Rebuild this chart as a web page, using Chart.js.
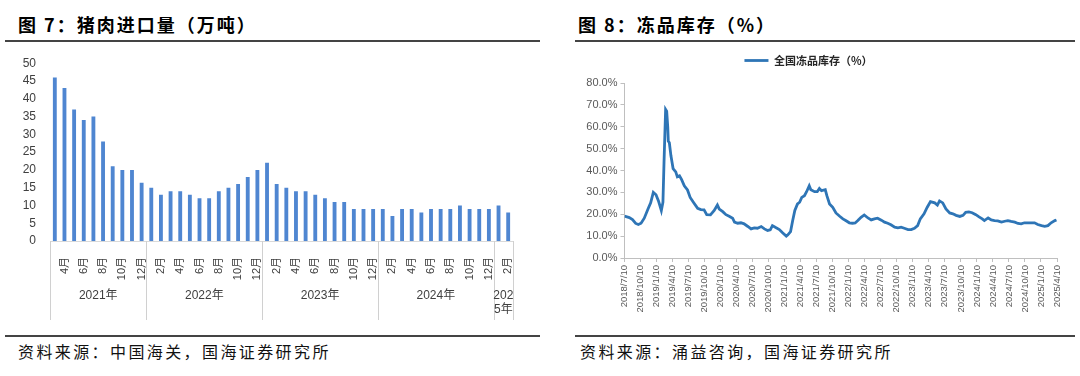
<!DOCTYPE html>
<html>
<head>
<meta charset="utf-8">
<script src="https://cdn.jsdelivr.net/npm/chart.js@4.4.1/dist/chart.umd.min.js"></script>
<style>
  body { margin: 0; background: #fff; width: 1080px; height: 376px; overflow: hidden; position: relative; font-family: 'Noto Sans CJK SC', sans-serif; }
  .title { position: absolute; top: 11px; font-size: 18px; font-weight: bold; color: #000; letter-spacing: 2px; white-space: nowrap; }
  .rule { position: absolute; height: 1.5px; background: #444; }
  .src { position: absolute; top: 339px; font-size: 16px; color: #111; letter-spacing: 2.4px; white-space: nowrap; }
  canvas { position: absolute; }
</style>
</head>
<body>
<div class="title" style="left:18px">图 7：猪肉进口量（万吨）</div>
<div class="title" style="left:578px">图 8：冻品库存（%）</div>
<div class="rule" style="left:5px;width:535px;top:40px"></div>
<div class="rule" style="left:575px;width:500px;top:40px"></div>
<canvas id="leftChart" width="540" height="280" style="left:0;top:50px"></canvas>
<canvas id="rightChart" width="520" height="285" style="left:560px;top:40px"></canvas>
<div class="rule" style="left:5px;width:535px;top:335px"></div>
<div class="rule" style="left:575px;width:500px;top:335px"></div>
<div class="src" style="left:18px">资料来源：中国海关，国海证券研究所</div>
<div class="src" style="left:580px">资料来源：涌益咨询，国海证券研究所</div>

<script>
// --- dati: importazioni di carne suina (万吨), mar 2021 - feb 2025 ---
const monthLabels = [
  '3月','4月','5月','6月','7月','8月','9月','10月','11月','12月',
  '1月','2月','3月','4月','5月','6月','7月','8月','9月','10月','11月','12月',
  '1月','2月','3月','4月','5月','6月','7月','8月','9月','10月','11月','12月',
  '1月','2月','3月','4月','5月','6月','7月','8月','9月','10月','11月','12月',
  '1月','2月'
];
const yearLabels = ['2021年', '2022年', '2023年', '2024年', '2025年'];
const yearCounts = [10, 12, 12, 12, 2];
const importVol = [
  46, 43, 37, 34, 35, 28, 21, 20, 20, 16.4,
  15, 13, 14, 14, 13, 12, 12, 14, 15, 16, 18, 20,
  22, 16, 15, 14, 14, 13, 12, 11, 11, 9, 9, 9,
  9, 7, 9, 9, 8, 9, 9, 9, 10, 9, 9, 9,
  10, 8
];

// --- dati: scorte di congelati (%), x = mesi dal 2018/7/10 ---
const quarterLabels = [
  '2018/7/10','2018/10/10','2019/1/10','2019/4/10','2019/7/10','2019/10/10',
  '2020/1/10','2020/4/10','2020/7/10','2020/10/10','2021/1/10','2021/4/10',
  '2021/7/10','2021/10/10','2022/1/10','2022/4/10','2022/7/10','2022/10/10',
  '2023/1/10','2023/4/10','2023/7/10','2023/10/10','2024/1/10','2024/4/10',
  '2024/7/10','2024/10/10','2025/1/10','2025/4/10'
];
const stockMonth = [
  0, 0.9, 1.5, 2.1, 2.6, 3.1, 3.7, 4.4, 4.9, 5.4, 5.9, 6.4, 6.9, 7.2, 7.4, 7.7, 7.9, 8.1, 8.2, 8.4,
  8.7, 9.1, 9.6, 9.9, 10.3, 10.7, 11.2, 11.8, 12.3, 12.9, 13.7, 14.3, 14.9, 15.4, 16.1, 16.8, 17.4, 17.75, 18.4, 19.0,
  19.6, 20.25, 20.6, 21.2, 21.8, 22.4, 23.1, 23.7, 24.3, 24.9, 25.6, 26.2, 26.8, 27.3, 27.7, 28.4, 29.0, 29.6, 30.3, 30.6,
  31.1, 31.5, 31.9, 32.4, 32.8, 33.2, 33.7, 34.1, 34.6, 34.9, 35.6, 36.1, 36.5, 36.9, 37.6, 37.9, 38.4, 39.0, 39.6, 40.3,
  40.9, 41.5, 42.1, 42.7, 43.2, 43.7, 44.3, 44.9, 45.6, 46.2, 46.8, 47.4, 48.1, 48.7, 49.3, 49.9, 50.6, 51.2, 51.8, 52.4,
  53.1, 53.7, 54.3, 54.9, 55.4, 56.1, 56.7, 57.3, 58.1, 58.6, 59.0, 59.6, 60.2, 60.9, 61.5, 62.1, 62.8, 63.4, 63.9, 64.5,
  65.1, 65.8, 66.4, 67.0, 67.4, 68.1, 68.7, 69.3, 69.9, 70.6, 71.2, 71.8, 72.4, 73.1, 73.7, 74.3, 74.9, 75.6, 76.2, 76.8,
  77.4, 78.1, 78.7, 79.3, 79.9, 80.6, 80.9
];
const stockPct = [
  19.1, 18.5, 17.6, 15.8, 15.3, 15.9, 18.2, 22.4, 25.2, 30.0, 28.9, 25.8, 21.7, 25.5, 43.6, 67.9, 67.1, 60.0, 53.5, 52.7,
  46.7, 40.9, 39.4, 37.1, 37.6, 35.8, 33.0, 31.1, 27.7, 25.5, 22.7, 22.1, 22.0, 19.8, 19.7, 21.7, 24.2, 22.4, 21.2, 19.8,
  19.1, 18.2, 16.4, 15.9, 16.1, 15.6, 14.4, 13.3, 13.8, 13.6, 14.4, 13.3, 12.6, 12.9, 14.8, 13.8, 13.0, 11.5, 10.0, 10.6,
  12.1, 17.1, 21.7, 24.7, 25.5, 27.7, 28.5, 30.3, 33.0, 31.2, 30.3, 30.3, 31.8, 30.8, 31.2, 28.5, 24.7, 23.2, 20.6, 19.1,
  17.9, 17.0, 16.1, 15.9, 16.0, 17.1, 18.6, 19.7, 18.3, 17.4, 17.9, 18.2, 17.3, 16.4, 15.9, 15.2, 14.1, 13.8, 14.1, 13.6,
  13.0, 13.0, 13.6, 14.8, 17.9, 20.2, 23.2, 25.8, 25.2, 24.2, 26.1, 25.2, 22.4, 20.6, 20.2, 19.5, 19.0, 19.5, 20.9, 21.1,
  20.7, 19.8, 18.8, 17.9, 17.1, 18.3, 17.4, 17.1, 17.0, 16.4, 16.8, 17.1, 16.7, 16.4, 15.8, 15.6, 16.1, 16.1, 16.1, 16.1,
  15.3, 14.8, 14.5, 14.8, 16.1, 17.1, 17.4
];

Chart.defaults.font.family = "'Liberation Sans', Arial, sans-serif";

// anni sotto l'asse (categorie a due livelli)
const yearBands = {
  id: 'yearBands',
  afterDraw(chart) {
    const { ctx, chartArea } = chart;
    const x = chart.scales.x;
    const step = x.width / monthLabels.length;
    const top = chartArea.bottom;
    ctx.save();
    ctx.strokeStyle = '#d0d0d0';
    ctx.lineWidth = 1;
    ctx.fillStyle = '#404040';
    ctx.font = "12px 'Liberation Sans', 'Noto Sans CJK SC', sans-serif";
    ctx.textAlign = 'center';
    ctx.textBaseline = 'middle';
    let start = 0;
    yearLabels.forEach((yl, k) => {
      const left = x.getPixelForValue(start) - step / 2;
      const right = x.getPixelForValue(start + yearCounts[k] - 1) + step / 2;
      ctx.beginPath();
      ctx.moveTo(Math.round(left) + 0.5, top);
      ctx.lineTo(Math.round(left) + 0.5, top + 79);
      if (k === yearLabels.length - 1) {
        ctx.moveTo(Math.round(right) + 0.5, top);
        ctx.lineTo(Math.round(right) + 0.5, top + 79);
      }
      ctx.stroke();
      // a capo se non ci sta
      const lines = [];
      let cur = '';
      for (const ch of yl) {
        if (cur && ctx.measureText(cur + ch).width > right - left + 3) { lines.push(cur); cur = ch; }
        else cur += ch;
      }
      lines.push(cur);
      lines.forEach((ln, j) => ctx.fillText(ln, (left + right) / 2, top + 55 + j * 14));
      start += yearCounts[k];
    });
    ctx.restore();
  }
};

// spazio extra sotto la legenda
const legendGap = {
  id: 'legendGap',
  afterInit(chart) {
    const lg = chart.legend;
    if (!lg) return;
    const fit = lg.fit;
    lg.fit = function () { fit.call(this); this.height += 7; };
  }
};

// --- GRAFICO 1: importazioni ---
new Chart(document.getElementById('leftChart'), {
  type: 'bar',
  data: {
    labels: monthLabels,
    datasets: [{
      data: importVol,
      backgroundColor: '#4f86d1',
      categoryPercentage: 1,
      barPercentage: 0.4
    }]
  },
  options: {
    responsive: false,
    animation: false,
    layout: { padding: { top: 12, right: 27, left: 0, bottom: 0 } },
    plugins: { legend: { display: false }, tooltip: { enabled: false } },
    scales: {
      y: {
        min: 0, max: 50,
        ticks: { stepSize: 5, color: '#404040', font: { size: 12 }, padding: 6 },
        grid: { display: false },
        border: { display: false },
        afterFit: s => { s.width = 50; }
      },
      x: {
        grid: { display: false },
        border: { color: '#d9d9d9' },
        ticks: {
          autoSkip: false, minRotation: 90, maxRotation: 90,
          color: '#404040', font: { size: 11, family: "'Liberation Sans', 'Noto Sans CJK SC', sans-serif" }, padding: 8,
          callback: (v, i) => (i % 2 === 1 ? monthLabels[i] : '')
        },
        afterFit: s => { s.height = 89; }
      }
    }
  },
  plugins: [yearBands]
});

// --- GRAFICO 2: scorte congelati ---
new Chart(document.getElementById('rightChart'), {
  type: 'line',
  data: {
    datasets: [{
      label: '全国冻品库存（%）',
      data: stockMonth.map((m, i) => ({ x: m, y: stockPct[i] })),
      borderColor: '#2e75b6',
      backgroundColor: '#2e75b6',
      borderWidth: 2.8,
      pointRadius: 0,
      tension: 0
    }]
  },
  options: {
    responsive: false,
    animation: false,
    layout: { padding: { top: 0, right: 23 } },
    plugins: {
      tooltip: { enabled: false },
      legend: {
        labels: {
          usePointStyle: true, pointStyle: 'line', pointStyleWidth: 24,
          color: '#262626', padding: 15,
          font: { size: 11, weight: 'bold', family: "'Noto Sans CJK SC', sans-serif" }
        }
      }
    },
    scales: {
      x: {
        type: 'linear', min: 0, max: 81,
        ticks: {
          stepSize: 3, autoSkip: false, minRotation: 90, maxRotation: 90,
          color: '#595959', font: { size: 9.5 },
          callback: v => quarterLabels[Math.round(v / 3)]
        },
        grid: { drawOnChartArea: false, tickLength: 4, color: '#bfbfbf' },
        border: { color: '#bfbfbf' },
        afterFit: s => { s.height = 67; }
      },
      y: {
        min: 0, max: 80,
        ticks: { stepSize: 10, color: '#595959', font: { size: 11 }, padding: 3, callback: v => v.toFixed(1) + '%' },
        grid: { drawOnChartArea: false, tickLength: 4, color: '#bfbfbf' },
        border: { color: '#bfbfbf' },
        afterFit: s => { s.width = 64.5; }
      }
    }
  },
  plugins: [legendGap]
});
</script>
</body>
</html>
